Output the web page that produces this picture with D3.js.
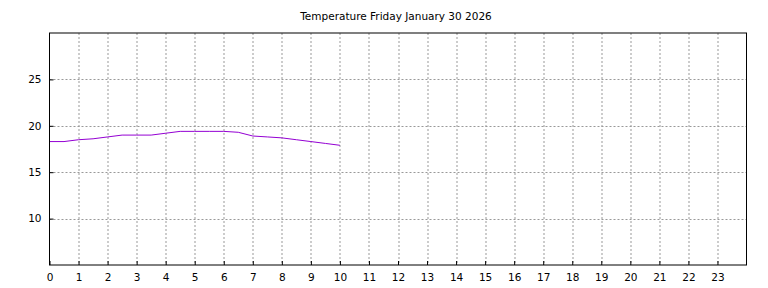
<!DOCTYPE html>
<html>
<head>
<meta charset="utf-8">
<script src="https://cdn.jsdelivr.net/npm/d3@7"></script>
<style>
  body { margin: 0; background: #fff; }
  text { font-family: "DejaVu Sans", sans-serif; fill: #000; }
</style>
</head>
<body>
<div id="vis-container"></div>
<script>
// data: hour of day and temperature readings
let hours = [0, 0.5, 1, 1.5, 2, 2.5, 3, 3.5, 4, 4.5, 5, 5.5, 6, 6.5, 7, 7.5, 8, 8.5, 9, 9.5, 10];
let temps = [18.3, 18.3, 18.5, 18.6, 18.8, 19.0, 19.0, 19.0, 19.2, 19.4, 19.4, 19.4, 19.4, 19.3, 18.9, 18.8, 18.7, 18.5, 18.3, 18.1, 17.9];
let xTicks = d3.range(0, 24);
let yTicks = [10, 15, 20, 25];
let title = "Temperature Friday January 30 2026";

let data = hours.map((h, i) => ({hour: h, temp: temps[i]}));

let margin = {top: 33, right: 21.5, bottom: 23, left: 49.5};
let width = 768 - margin.left - margin.right;
let height = 288 - margin.top - margin.bottom;

let svg = d3.select("#vis-container")
  .append("svg")
  .attr("width", 768)
  .attr("height", 288);

let g = svg.append("g")
  .attr("transform", `translate(${margin.left}, ${margin.top})`);

//scales
let x = d3.scaleLinear().domain([0, 24]).range([0, width]);
let y = d3.scaleLinear().domain([5, 30]).range([height, 0]);

//grid
g.append("g").selectAll("line")
  .data(xTicks.slice(1))
  .join("line")
  .attr("x1", d => Math.round(x(d)) + 0.5)
  .attr("x2", d => Math.round(x(d)) + 0.5)
  .attr("y1", 0).attr("y2", height)
  .attr("stroke", "#999").attr("stroke-dasharray", "2,2");

g.append("g").selectAll("line")
  .data(yTicks)
  .join("line")
  .attr("y1", d => Math.round(y(d)) + 0.5)
  .attr("y2", d => Math.round(y(d)) + 0.5)
  .attr("x1", 0).attr("x2", width)
  .attr("stroke", "#999").attr("stroke-dasharray", "2,2");

//line
let line = d3.line().x(d => x(d.hour)).y(d => y(d.temp));
g.append("path")
  .datum(data)
  .attr("fill", "none")
  .attr("stroke", "#9400d3")
  .attr("stroke-width", 1)
  .attr("d", line);

//axes with inward ticks
let xAxis = d3.axisBottom(x).tickValues(xTicks).tickSizeInner(-4).tickSizeOuter(0).tickPadding(9);
let yAxis = d3.axisLeft(y).tickValues(yTicks).tickSizeInner(-4).tickSizeOuter(0).tickPadding(8);

let xg = g.append("g").attr("transform", `translate(0,${height})`).call(xAxis);
let yg = g.append("g").call(yAxis);
[xg, yg].forEach(a => {
  a.select(".domain").remove();
  a.selectAll("text").attr("font-size", "10.5px").attr("font-family", "DejaVu Sans");
  a.selectAll("line").attr("stroke", "#000");
});

//frame
g.append("rect")
  .attr("x", 0).attr("y", 0)
  .attr("width", width).attr("height", height)
  .attr("fill", "none").attr("stroke", "#000");

//title
svg.append("text")
  .attr("x", 396)
  .attr("y", 20)
  .attr("text-anchor", "middle")
  .attr("font-size", "10.5px")
  .text(title);
</script>
</body>
</html>
